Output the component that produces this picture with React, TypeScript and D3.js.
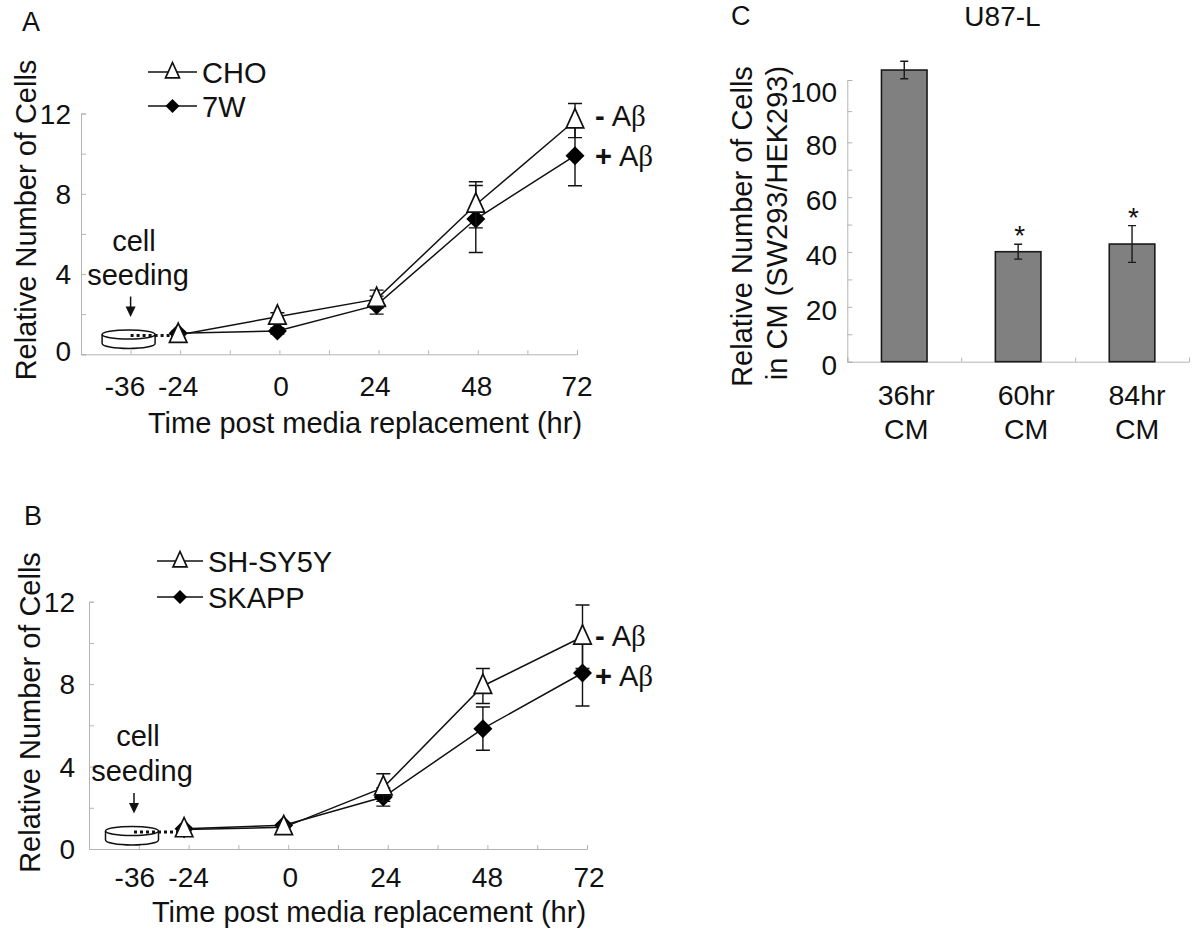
import React, { useEffect, useRef } from 'react'
import * as d3 from 'd3'

const FONT = '"Liberation Sans", Arial, sans-serif'
const INK = '#111'
const AXIS = '#b4b4b4'

// time points shared by panels A and B (hr)
const times = [-24, 0, 24, 48, 72]
const xTickValues = [-48, -36, -24, -12, 0, 12, 24, 36, 48, 60, 72]
const xLabels = [-36, -24, 0, 24, 48, 72]
const yLabels = [0, 4, 8, 12]
const yMinor = [0, 2, 4, 6, 8, 10, 12]

// panel A
const choValues = [0.96, 1.87, 2.75, 7.45, 11.65]
const choErrors = [0.1, 0.2, 0.45, 1.15, 0.85]
const sevenWValues = [1.05, 1.16, 2.45, 6.74, 9.9]
const sevenWErrors = [0.1, 0.15, 0.45, 1.67, 1.5]

// panel B
const shsy5yValues = [0.95, 1.05, 2.98, 7.91, 10.3]
const shsy5yErrors = [0.1, 0.1, 0.67, 0.85, 1.54]
const skappValues = [0.98, 1.15, 2.52, 5.84, 8.54]
const skappErrors = [0.1, 0.1, 0.44, 1.05, 1.6]

// panel C
const cmCategories = ['36hr', '60hr', '84hr']
const cmValues = [103.2, 40.1, 42.9]
const cmErrors = [2.8, 2.7, 6.7]
const cmStars = [false, true, true]
const cmTicks = [0, 10, 20, 30, 40, 50, 60, 70, 80, 90, 100]
const cmLabels = [0, 20, 40, 60, 80, 100]
const cmLabelNudge = [2, 8, 5]

type G = d3.Selection<SVGGElement, unknown, null, undefined>

const label = (
  g: G,
  txt: string,
  x: number,
  y: number,
  size = 28,
  anchor = 'middle',
) =>
  g
    .append('text')
    .attr('x', x)
    .attr('y', y)
    .attr('font-size', size)
    .attr('text-anchor', anchor)
    .attr('fill', INK)
    .text(txt)

const vertical = (g: G, txt: string, x: number, cy: number) =>
  g
    .append('text')
    .attr('transform', `translate(${x},${cy}) rotate(-90)`)
    .attr('font-size', 29)
    .attr('text-anchor', 'middle')
    .attr('fill', INK)
    .text(txt)

const triangle = (g: G, cx: number, cy: number, w: number) =>
  g
    .append('path')
    .attr(
      'd',
      d3.line()([
        [cx, cy - w * 0.68],
        [cx + w / 2, cy + w * 0.42],
        [cx - w / 2, cy + w * 0.42],
      ]) + 'Z',
    )
    .attr('fill', '#fff')
    .attr('stroke', INK)
    .attr('stroke-width', 1.7)

const diamond = (g: G, cx: number, cy: number, w: number) =>
  g
    .append('path')
    .attr(
      'd',
      d3.line()([
        [cx, cy - w / 2],
        [cx + w / 2, cy],
        [cx, cy + w / 2],
        [cx - w / 2, cy],
      ]) + 'Z',
    )
    .attr('fill', '#000')

interface PanelConfig {
  letter: string
  letterPos: [number, number]
  xRange: [number, number]
  yRange: [number, number]
  markShift: number
  openValues: number[]
  openErrors: number[]
  filledValues: number[]
  filledErrors: number[]
  legend: [string, string]
  legendX: number
  legendW: number
  legendY: [number, number]
  xNudge: number[]
  xLabelY: number
  zeroNudge: number
  titleX: number
  titleY: number
  yTitleX: number
  yTitleCy: number
  yLabelRight: number
  cellX: number
  cellY: [number, number]
  dishShift: [number, number]
  abY: [number, number]
}

const panelA: PanelConfig = {
  letter: 'A',
  letterPos: [22, 30.7],
  xRange: [81, 577],
  yRange: [354.3, 113.5],
  markShift: -2,
  openValues: choValues,
  openErrors: choErrors,
  filledValues: sevenWValues,
  filledErrors: sevenWErrors,
  legend: ['CHO', '7W'],
  legendX: 148,
  legendW: 49,
  legendY: [72, 106],
  xNudge: [-5.6, -2, 1.6, -3.6, -1, 0],
  xLabelY: 396,
  zeroNudge: -3,
  titleX: 365,
  titleY: 433,
  yTitleX: 36,
  yTitleCy: 220,
  yLabelRight: 71,
  cellX: 138,
  cellY: [251, 285],
  dishShift: [-2, 0.3],
  abY: [126, 166],
}

const panelB: PanelConfig = {
  letter: 'B',
  letterPos: [24, 525],
  xRange: [89, 587],
  yRange: [849, 601.7],
  markShift: -4.5,
  openValues: shsy5yValues,
  openErrors: shsy5yErrors,
  filledValues: skappValues,
  filledErrors: skappErrors,
  legend: ['SH-SY5Y', 'SKAPP'],
  legendX: 157,
  legendW: 46,
  legendY: [561, 597],
  xNudge: [-4, 0, 2, -2, 0, 2],
  xLabelY: 887,
  zeroNudge: 0,
  titleX: 369,
  titleY: 922,
  yTitleX: 40,
  yTitleCy: 712.5,
  yLabelRight: 75,
  cellX: 142,
  cellY: [746, 781],
  dishShift: [-6.8, 2.6],
  abY: [646, 686],
}

function drawLinePanel(
  svg: d3.Selection<SVGSVGElement, unknown, null, undefined>,
  c: PanelConfig,
) {
  const g = svg.append('g') as G
  const x = d3.scaleLinear().domain([-48, 72]).range(c.xRange)
  const y = d3.scaleLinear().domain([0, 12]).range(c.yRange)
  const px = (t: number) => x(t) + c.markShift

  label(g, c.letter, c.letterPos[0], c.letterPos[1], 27, 'start')

  // axes, ticks pointing into the plot
  g.append('g')
    .attr('transform', `translate(0,${c.yRange[0]})`)
    .call(
      d3
        .axisBottom(x)
        .tickValues(xTickValues)
        .tickSize(-4)
        .tickFormat(() => ''),
    )
    .call((a) => a.selectAll('path,line').attr('stroke', AXIS))
  g.append('g')
    .attr('transform', `translate(${c.xRange[0]},0)`)
    .call(
      d3
        .axisRight(y)
        .tickValues(yMinor)
        .tickSize(5)
        .tickFormat(() => ''),
    )
    .call((a) => a.selectAll('path,line').attr('stroke', AXIS))

  yLabels.forEach((v) =>
    label(
      g,
      String(v),
      c.yLabelRight,
      y(v) + 10 + (v === 0 ? c.zeroNudge : 0),
      28,
      'end',
    ),
  )
  xLabels.forEach((v, i) => label(g, String(v), x(v) + c.xNudge[i], c.xLabelY))
  label(g, 'Time post media replacement (hr)', c.titleX, c.titleY, 29)
  vertical(g, 'Relative Number of Cells', c.yTitleX, c.yTitleCy)

  // seeding annotation: dish, arrow, dotted lead-in
  const dishX = x(-36) + c.dishShift[0]
  const dishY = y(1) + c.dishShift[1]
  const arrowX = dishX + 2
  const rx = 26.5
  g.append('path')
    .attr('d', `M${dishX - rx},${dishY}v9a${rx},5 0 0 0 ${2 * rx},0v-9`)
    .attr('fill', '#fff')
    .attr('stroke', INK)
    .attr('stroke-width', 1.5)
  g.append('ellipse')
    .attr('cx', dishX)
    .attr('cy', dishY)
    .attr('rx', rx)
    .attr('ry', 4.5)
    .attr('fill', '#fff')
    .attr('stroke', INK)
    .attr('stroke-width', 1.5)
  g.append('line')
    .attr('x1', arrowX)
    .attr('x2', px(-24) - 6)
    .attr('y1', dishY + 1)
    .attr('y2', dishY + 1)
    .attr('stroke', INK)
    .attr('stroke-width', 3)
    .attr('stroke-dasharray', '3 3')
  label(g, 'cell', c.cellX - 4, c.cellY[0], 29)
  label(g, 'seeding', c.cellX, c.cellY[1], 29)
  g.append('line')
    .attr('x1', arrowX)
    .attr('x2', arrowX)
    .attr('y1', dishY - 38)
    .attr('y2', dishY - 27)
    .attr('stroke', INK)
    .attr('stroke-width', 1.5)
  g.append('path')
    .attr('d', `M${arrowX - 5},${dishY - 28}h10l-5,${10.5}Z`)
    .attr('fill', INK)

  const lineGen = d3
    .line<number>()
    .x((_d, i) => px(times[i]))
    .y((d) => y(d))

  const series = (
    values: number[],
    errors: number[],
    mark: 'open' | 'filled',
  ) => {
    g.append('path')
      .attr('d', lineGen(values))
      .attr('fill', 'none')
      .attr('stroke', INK)
      .attr('stroke-width', 1.5)
    values.forEach((v, i) => {
      const cx = px(times[i])
      const cap = 7
      g.append('path')
        .attr(
          'd',
          `M${cx - cap},${y(v + errors[i])}h${2 * cap}M${cx},${y(v + errors[i])}V${y(
            v - errors[i],
          )}M${cx - cap},${y(v - errors[i])}h${2 * cap}`,
        )
        .attr('fill', 'none')
        .attr('stroke', INK)
        .attr('stroke-width', 1.4)
      if (mark === 'open') triangle(g, cx, y(v), 17.5)
      else diamond(g, cx, y(v), 19)
    })
  }
  series(c.filledValues, c.filledErrors, 'filled')
  series(c.openValues, c.openErrors, 'open')

  // legend
  c.legend.forEach((name, i) => {
    const ly = c.legendY[i]
    const mid = c.legendX + c.legendW / 2
    g.append('line')
      .attr('x1', c.legendX)
      .attr('x2', c.legendX + c.legendW)
      .attr('y1', ly)
      .attr('y2', ly)
      .attr('stroke', INK)
      .attr('stroke-width', 1.4)
    if (i === 0) triangle(g, mid, ly, 14)
    else diamond(g, mid, ly, 14)
    label(g, name, c.legendX + c.legendW + 5, ly + 11, 29, 'start')
  })

  // treatment tags
  const signs = ['-', '+']
  signs.forEach((sign, i) => {
    const t = g
      .append('text')
      .attr('x', 595)
      .attr('y', c.abY[i])
      .attr('font-size', 29)
      .attr('fill', INK)
    t.append('tspan').attr('font-weight', 'bold').text(sign)
    t.append('tspan').attr('dx', 7).text('A')
    t.append('tspan').attr('font-family', '"Liberation Serif", serif').text('β')
  })
}

function drawBarPanel(
  svg: d3.Selection<SVGSVGElement, unknown, null, undefined>,
) {
  const g = svg.append('g') as G
  const x = d3
    .scaleBand<string>()
    .domain(cmCategories)
    .range([847.3, 1189])
    .paddingInner(0.6)
    .paddingOuter(0.3)
  // the printed axis is not quite even above 80
  const y = d3.scaleLinear().domain([0, 80, 100]).range([361.7, 142.3, 80])

  label(g, 'C', 731, 25, 27, 'start')
  label(g, 'U87-L', 1002.5, 26, 28)

  g.append('g')
    .attr('transform', 'translate(0,361.7)')
    .call(
      d3
        .axisBottom(d3.scaleLinear().domain([0, 3]).range([847.3, 1189]))
        .tickValues([0, 1, 2, 3])
        .tickSize(-4)
        .tickFormat(() => ''),
    )
    .call((a) => a.selectAll('path,line').attr('stroke', AXIS))
  g.append('g')
    .attr('transform', 'translate(847.3,0)')
    .call(
      d3
        .axisRight(y)
        .tickValues(cmTicks)
        .tickSize(5)
        .tickFormat(() => ''),
    )
    .call((a) => a.selectAll('path,line').attr('stroke', AXIS))

  cmLabels.forEach((v) =>
    label(g, String(v), 837, y(v) + (v === 100 ? 22 : 13), 28, 'end'),
  )

  cmCategories.forEach((name, i) => {
    const bx = x(name) as number
    const cx = bx + x.bandwidth() / 2
    g.append('rect')
      .attr('x', bx)
      .attr('y', y(cmValues[i]))
      .attr('width', x.bandwidth())
      .attr('height', y(0) - y(cmValues[i]))
      .attr('fill', '#808080')
      .attr('stroke', '#1a1a1a')
      .attr('stroke-width', 1.6)
    const top = y(cmValues[i] + cmErrors[i])
    const bot = y(cmValues[i] - cmErrors[i])
    g.append('path')
      .attr('d', `M${cx - 4},${top}h8M${cx},${top}V${bot}M${cx - 4},${bot}h8`)
      .attr('fill', 'none')
      .attr('stroke', '#1a1a1a')
      .attr('stroke-width', 1.4)
    if (cmStars[i]) label(g, '*', cx + 1.5, top + 1, 28)
    label(g, name, cx + cmLabelNudge[i], 404.5, 28.5)
    label(g, 'CM', cx + cmLabelNudge[i], 438.5, 28.5)
  })

  vertical(g, 'Relative Number of Cells', 751.5, 226.5)
  vertical(g, 'in CM (SW293/HEK293)', 786.7, 223)
}

export default function App() {
  const ref = useRef<SVGSVGElement | null>(null)

  useEffect(() => {
    if (!ref.current) return
    const svg = d3.select(ref.current)
    svg.selectAll('*').remove()
    drawLinePanel(svg, panelA)
    drawLinePanel(svg, panelB)
    drawBarPanel(svg)
    return () => {
      svg.selectAll('*').remove()
    }
  }, [])

  return (
    <svg
      ref={ref}
      width={1200}
      height={930}
      viewBox="0 0 1200 930"
      style={{
        position: 'absolute',
        left: 0,
        top: 0,
        background: '#fff',
        fontFamily: FONT,
      }}
    />
  )
}
